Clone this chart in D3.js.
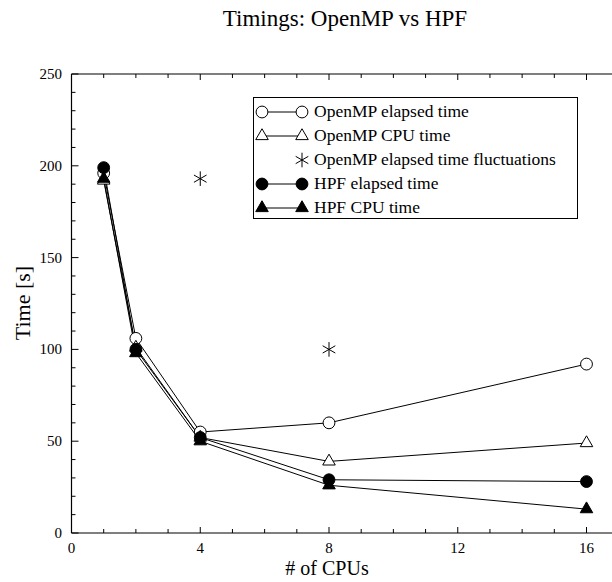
<!DOCTYPE html>
<html>
<head>
<meta charset="utf-8">
<script src="https://cdn.jsdelivr.net/npm/d3@7"></script>
<style>
  body { margin: 0; background: #fff; }
  svg text { font-family: "Liberation Serif", "DejaVu Serif", serif; fill: #000; }
</style>
</head>
<body>
<svg id="chart" width="612" height="582"></svg>
<script>
// values
const cpus = [1, 2, 4, 8, 16];
const ompElapsed = [196, 106, 55, 60, 92];
const ompCpu = [192, 101, 52, 39, 49];
const fluctCpus = [4, 8];
const ompFluct = [193, 100];
const hpfElapsed = [199, 100, 52, 29, 28];
const hpfCpu = [193, 98, 50, 26, 13];

const xTicks = [0, 4, 8, 12, 16];
const yTicks = [0, 50, 100, 150, 200, 250];

const svg = d3.select("#chart");

// the right edge of the plot is cut off by the picture
const x = d3.scaleLinear().domain([0, 16]).range([71.5, 586.5]);
const y = d3.scaleLinear().domain([0, 250]).range([533, 74]);

// symbols
const circleSym = d3.symbol().type(d3.symbolCircle).size(110);
const triSym = d3.symbol().type(d3.symbolTriangle).size(68);
const starSym = d3.symbol().type(d3.symbolAsterisk).size(150);

const series = [
  { name: "OpenMP elapsed time", xs: cpus, ys: ompElapsed, sym: circleSym, fill: "#fff", line: true },
  { name: "OpenMP CPU time", xs: cpus, ys: ompCpu, sym: triSym, fill: "#fff", line: true },
  { name: "OpenMP elapsed time fluctuations", xs: fluctCpus, ys: ompFluct, sym: starSym, fill: "none", line: false },
  { name: "HPF elapsed time", xs: cpus, ys: hpfElapsed, sym: circleSym, fill: "#000", line: true },
  { name: "HPF CPU time", xs: cpus, ys: hpfCpu, sym: triSym, fill: "#000", line: true }
];

// frame lines (left, top, bottom)
svg.append("line").attr("x1", x(0)).attr("x2", x(0)).attr("y1", y(0)).attr("y2", y(250))
  .attr("stroke", "#000").attr("stroke-width", 1.2);
svg.append("line").attr("x1", x(0)).attr("x2", 612).attr("y1", y(250)).attr("y2", y(250))
  .attr("stroke", "#000").attr("stroke-width", 1.2);
svg.append("line").attr("x1", x(0)).attr("x2", 612).attr("y1", y(0)).attr("y2", y(0))
  .attr("stroke", "#000").attr("stroke-width", 1.2);

// ticks, pointing inward
const ax = svg.append("g").attr("stroke", "#000").attr("stroke-width", 1);
d3.range(0, 18).forEach(v => {
  const len = v % 4 === 0 ? 6 : 4;
  ax.append("line").attr("x1", x(v)).attr("x2", x(v)).attr("y1", y(0)).attr("y2", y(0) - len);
  ax.append("line").attr("x1", x(v)).attr("x2", x(v)).attr("y1", y(250)).attr("y2", y(250) + len);
});
d3.range(0, 251, 10).forEach(v => {
  const len = v % 50 === 0 ? 7 : 4;
  ax.append("line").attr("x1", x(0)).attr("x2", x(0) + len).attr("y1", y(v)).attr("y2", y(v));
});

// tick labels
svg.append("g").selectAll("text").data(xTicks).join("text")
  .attr("x", d => x(d)).attr("y", 553)
  .attr("text-anchor", "middle").attr("font-size", 15)
  .text(d => d);
svg.append("g").selectAll("text").data(yTicks).join("text")
  .attr("x", 62).attr("y", d => y(d) + 5)
  .attr("text-anchor", "end").attr("font-size", 15)
  .text(d => d);

// titles
svg.append("text").attr("x", 345).attr("y", 26)
  .attr("text-anchor", "middle").attr("font-size", 23)
  .text("Timings: OpenMP vs HPF");
svg.append("text").attr("x", 327).attr("y", 575)
  .attr("text-anchor", "middle").attr("font-size", 20)
  .text("# of CPUs");
svg.append("text").attr("transform", "translate(30,303) rotate(-90)")
  .attr("text-anchor", "middle").attr("font-size", 22)
  .text("Time [s]");

// data lines
const lineGen = d3.line().x(d => x(d[0])).y(d => y(d[1]));
series.filter(s => s.line).forEach(s => {
  svg.append("path")
    .attr("d", lineGen(d3.zip(s.xs, s.ys)))
    .attr("fill", "none").attr("stroke", "#000").attr("stroke-width", 1);
});

// markers
series.forEach(s => {
  svg.append("g").selectAll("path").data(d3.zip(s.xs, s.ys)).join("path")
    .attr("transform", d => `translate(${x(d[0])},${y(d[1])})`)
    .attr("d", s.sym)
    .attr("fill", s.fill).attr("stroke", "#000").attr("stroke-width", 1);
});

// legend
const lg = svg.append("g");
lg.append("rect").attr("x", 253.5).attr("y", 97.5).attr("width", 324).attr("height", 121)
  .attr("fill", "#fff").attr("stroke", "#000").attr("stroke-width", 1);
series.forEach((s, i) => {
  const ry = 112 + i * 24;
  if (s.line) {
    lg.append("line").attr("x1", 262).attr("x2", 302).attr("y1", ry).attr("y2", ry)
      .attr("stroke", "#000").attr("stroke-width", 1);
    lg.append("path").attr("transform", `translate(262,${ry})`).attr("d", s.sym)
      .attr("fill", s.fill).attr("stroke", "#000");
  }
  lg.append("path").attr("transform", `translate(302,${ry})`).attr("d", s.sym)
    .attr("fill", s.fill).attr("stroke", "#000");
  lg.append("text").attr("x", 314).attr("y", ry + 5).attr("font-size", 17.5).text(s.name);
});
</script>
</body>
</html>
